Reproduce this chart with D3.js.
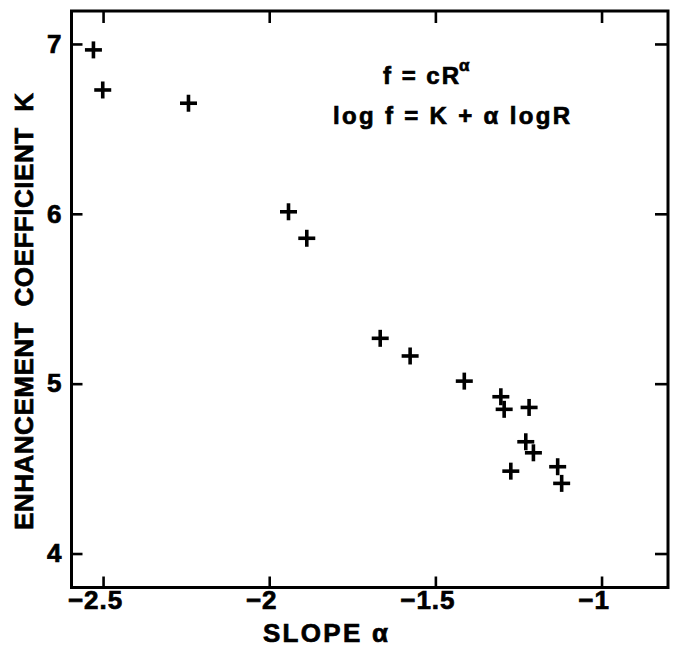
<!DOCTYPE html>
<html>
<head>
<meta charset="utf-8">
<script src="https://cdn.jsdelivr.net/npm/d3@7"></script>
<style>
  html, body { margin: 0; padding: 0; background: #fff; }
  svg { display: block; }
  text { font-family: "Liberation Sans", Arial, Helvetica, sans-serif; font-weight: bold; fill: #000; stroke: #000; stroke-width: 0.7px; }
</style>
</head>
<body>
<svg id="chart" width="673" height="652"></svg>
<script>
// Data
const slopeAlpha = [-2.529, -2.501, -2.243, -1.942, -1.887, -1.666, -1.576, -1.413,
                    -1.303, -1.293, -1.218, -1.228, -1.205, -1.273, -1.132, -1.120];
const coefK      = [6.965, 6.729, 6.651, 6.012, 5.856, 5.267, 5.163, 5.015,
                    4.923, 4.849, 4.860, 4.658, 4.593, 4.485, 4.511, 4.413];
const xTickValues = [-2.5, -2, -1.5, -1];
const yTickValues = [4, 5, 6, 7];
const xDomain = [-2.595, -0.80];
const yDomain = [3.80, 7.194];
const xLabel = "SLOPE \u03b1";
const yLabel = "ENHANCEMENT  COEFFICIENT  K";
const formula1 = "f = cR";
const formula1Sup = "\u03b1";
const formula2 = "log f = K + \u03b1 logR";

const points = slopeAlpha.map((a, i) => ({ a, k: coefK[i] }));

const svg = d3.select("#chart");
const frame = { left: 71.5, right: 668, top: 11, bottom: 587.5 };

const x = d3.scaleLinear().domain(xDomain).range([frame.left, frame.right]);
const y = d3.scaleLinear().domain(yDomain).range([frame.bottom, frame.top]);

// Axes (ticks pointing inward)
const gx = svg.append("g")
  .attr("transform", `translate(0,${frame.bottom})`)
  .call(d3.axisBottom(x).tickValues(xTickValues).tickSizeInner(-11).tickSizeOuter(0)
        .tickPadding(3).tickFormat(d => d3.format("")(d)));
const gxTop = svg.append("g")
  .attr("transform", `translate(0,${frame.top})`)
  .call(d3.axisTop(x).tickValues(xTickValues).tickSizeInner(-12).tickSizeOuter(0).tickFormat(""));
const gy = svg.append("g")
  .attr("transform", `translate(${frame.left},0)`)
  .call(d3.axisLeft(y).tickValues(yTickValues).tickSizeInner(-11).tickSizeOuter(0)
        .tickPadding(10).tickFormat(d3.format("d")));
const gyRight = svg.append("g")
  .attr("transform", `translate(${frame.right},0)`)
  .call(d3.axisRight(y).tickValues(yTickValues).tickSizeInner(-13).tickSizeOuter(0).tickFormat(""));

[gx, gxTop, gy, gyRight].forEach(g => {
  g.attr("font-family", null).attr("font-size", null);
  g.select(".domain").remove();
  g.selectAll(".tick line").attr("stroke", "#000").attr("stroke-width", 2.6);
  g.selectAll(".tick text")
    .style("font-size", "26px").style("font-weight", "bold")
    .style("font-family", "'Liberation Sans', Arial, sans-serif")
    .attr("fill", "#000");
});
gx.selectAll(".tick text").attr("dx", -8).style("letter-spacing", "1px");

// Frame
svg.append("rect")
  .attr("x", frame.left).attr("y", frame.top)
  .attr("width", frame.right - frame.left).attr("height", frame.bottom - frame.top)
  .attr("fill", "none").attr("stroke", "#000").attr("stroke-width", 3);

// Plus markers
const arm = 8.5;
const marks = svg.append("g").attr("stroke", "#000").attr("stroke-width", 3.6).attr("stroke-linecap", "butt");
points.forEach(p => {
  const cx = x(p.a), cy = y(p.k);
  marks.append("line").attr("x1", cx - arm).attr("x2", cx + arm).attr("y1", cy).attr("y2", cy);
  marks.append("line").attr("x1", cx).attr("x2", cx).attr("y1", cy - arm).attr("y2", cy + arm);
});

// Axis titles
svg.append("text")
  .attr("x", 263).attr("y", 642)
  .attr("textLength", 125).attr("lengthAdjust", "spacing")
  .style("font-size", "26px")
  .text(xLabel);

svg.append("text")
  .attr("transform", "translate(33,311.5) rotate(-90)")
  .attr("text-anchor", "middle")
  .attr("textLength", 437).attr("lengthAdjust", "spacing")
  .style("font-size", "26px")
  .style("white-space", "pre")
  .text(yLabel);

// Formula annotation
svg.append("text")
  .attr("x", 383).attr("y", 84)
  .attr("textLength", 76).attr("lengthAdjust", "spacing")
  .style("font-size", "24px")
  .text(formula1);
svg.append("text")
  .attr("x", 459).attr("y", 71)
  .style("font-size", "17px")
  .text(formula1Sup);
svg.append("text")
  .attr("x", 333).attr("y", 124)
  .attr("textLength", 237).attr("lengthAdjust", "spacing")
  .style("font-size", "24px")
  .text(formula2);
</script>
</body>
</html>
